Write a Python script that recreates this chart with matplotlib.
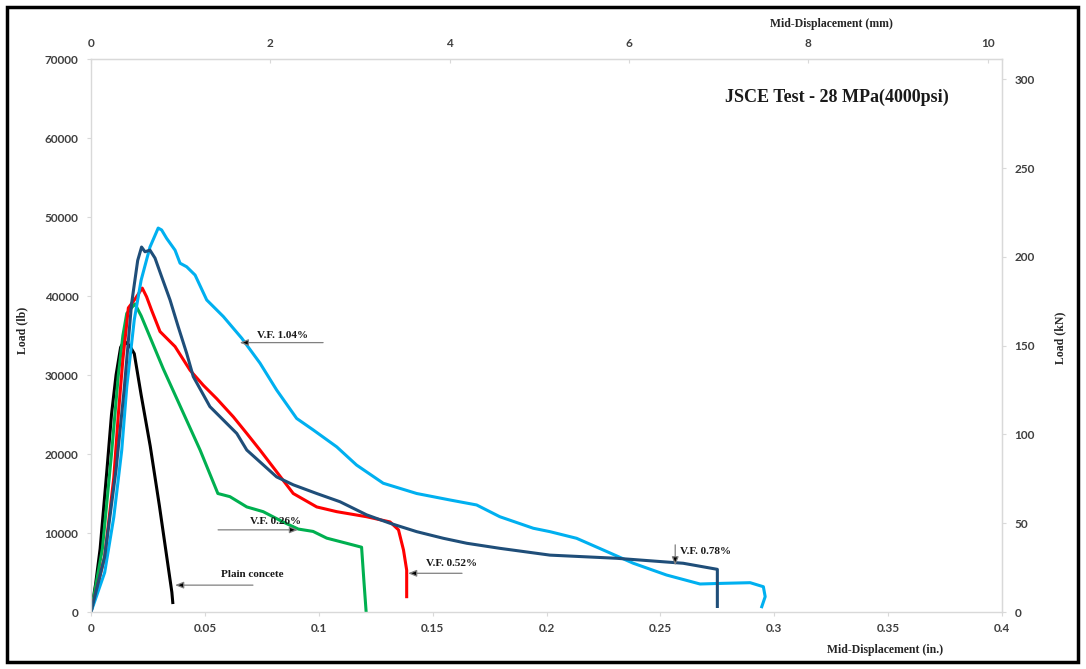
import matplotlib
matplotlib.use("Agg")
import matplotlib.pyplot as plt
from matplotlib.patches import Rectangle

# Mid-displacement (in.) and load (lb)
plain_x = [0, 0.002, 0.004, 0.007, 0.009, 0.011, 0.013, 0.0145, 0.017, 0.019,
           0.022, 0.026, 0.030, 0.034, 0.0355, 0.0359]
plain_y = [0, 3500, 8000, 18000, 25000, 30000, 33500, 34300, 33700, 32700,
           27500, 21000, 13500, 5500, 2500, 1200]

vf026_x = [0, 0.005, 0.009, 0.012, 0.014, 0.0157, 0.0193, 0.022, 0.0317, 0.0479,
           0.0557, 0.061, 0.0684, 0.0756, 0.0843, 0.091, 0.0975, 0.1035, 0.1122,
           0.1188, 0.1198, 0.1208]
vf026_y = [0, 8000, 20000, 30000, 35000, 37800, 39000, 37500, 30800, 20500,
           15000, 14600, 13300, 12700, 11400, 10500, 10200, 9350, 8700,
           8200, 4000, 0]

vf052_x = [0, 0.006, 0.010, 0.012, 0.014, 0.0155, 0.0164, 0.0193, 0.0225, 0.0244,
           0.0266, 0.0303, 0.0369, 0.0435, 0.0493, 0.0552, 0.0625, 0.0684, 0.0742,
           0.0888, 0.0991, 0.1079, 0.121, 0.1313, 0.135, 0.1372, 0.1386, 0.1386]
vf052_y = [0, 7000, 17000, 25000, 32000, 36000, 38500, 39600, 41000, 39900,
           38200, 35500, 33600, 30600, 28700, 27000, 24700, 22600, 20500,
           15000, 13300, 12700, 12060, 11400, 10400, 7850, 5300, 1940]

vf078_x = [0, 0.006, 0.011, 0.0145, 0.0178, 0.0205, 0.0222, 0.0237, 0.0259, 0.0281,
           0.031, 0.0347, 0.0383, 0.042, 0.0449, 0.0522, 0.0581, 0.064, 0.0684,
           0.0815, 0.0888, 0.0991, 0.1093, 0.121, 0.1313, 0.143, 0.1547, 0.165,
           0.1795, 0.2015, 0.2308, 0.26, 0.275, 0.275]
vf078_y = [0, 7000, 18000, 28000, 39000, 44500, 46200, 45600, 45800, 44800,
           42450, 39500, 36100, 32750, 29800, 26000, 24300, 22600, 20500,
           17100, 16100, 15000, 13960, 12300, 11230, 10170, 9330, 8700,
           8060, 7200, 6800, 6170, 5400, 700]

vf104_x = [0, 0.006, 0.010, 0.0135, 0.0157, 0.019, 0.022, 0.0259, 0.0295, 0.031,
           0.0332, 0.0369, 0.0391, 0.042, 0.0457, 0.0508, 0.0581, 0.0662, 0.0742,
           0.0815, 0.0903, 0.0976, 0.1079, 0.1166, 0.1283, 0.143, 0.1576, 0.1693,
           0.1795, 0.1942, 0.2015, 0.2132, 0.2249, 0.2381, 0.2527, 0.2674, 0.2776,
           0.2894, 0.2952, 0.296, 0.2945]
vf104_y = [0, 5000, 12000, 20500, 28500, 37000, 42000, 46200, 48600, 48360,
           47300, 45800, 44150, 43700, 42650, 39500, 37400, 34650, 31500,
           28100, 24500, 23040, 20900, 18600, 16300, 15000, 14180, 13550,
           12060, 10600, 10170, 9330, 7850, 6170, 4680, 3545, 3630,
           3710, 3200, 1940, 670]

series = [
    (plain_x, plain_y, "black"),
    (vf026_x, vf026_y, "#00b050"),
    (vf052_x, vf052_y, "#ff0000"),
    (vf104_x, vf104_y, "#00b0f0"),
    (vf078_x, vf078_y, "#1f4e79"),
]

LB_TO_KN = 0.00444822
SERIF = ["Liberation Serif", "DejaVu Serif"]
TICKFONT = dict(family="Lato", weight="bold", size=8.5, color="#404040")

fig = plt.figure(figsize=(10.86, 6.69), dpi=100)
ax = fig.add_axes([0.0838, 0.0852, 0.8389, 0.8266])

for xs, ys, c in series:
    ax.plot(xs, ys, color=c, lw=2.2, solid_joinstyle="round")

ax.set_xlim(0, 0.4)
ax.set_ylim(0, 70000)
ax.set_xticks([0, 0.05, 0.1, 0.15, 0.2, 0.25, 0.3, 0.35, 0.4])
ax.set_xticklabels(["0", "0.05", "0.1", "0.15", "0.2", "0.25", "0.3", "0.35", "0.4"])
ax.set_yticks(range(0, 70001, 10000))

for s in ax.spines.values():
    s.set_color("#d9d9d9")
    s.set_linewidth(1.0)
ax.tick_params(axis="x", length=3, color="#d9d9d9", width=0.8, pad=5)
ax.tick_params(axis="y", length=3, color="#d9d9d9", width=0.8, pad=6)
for lab in ax.get_xticklabels() + ax.get_yticklabels():
    lab.set(**TICKFONT)

top = ax.secondary_xaxis("top", functions=(lambda v: v * 25.4, lambda v: v / 25.4))
top.set_xticks([0, 2, 4, 6, 8, 10])
top.spines["top"].set_color("#d9d9d9")
top.tick_params(length=3, color="#d9d9d9", direction="in", pad=7)
for lab in top.get_xticklabels():
    lab.set(**TICKFONT)

right = ax.secondary_yaxis("right", functions=(lambda v: v * LB_TO_KN,
                                                lambda v: v / LB_TO_KN))
right.set_yticks(range(0, 301, 50))
right.spines["right"].set_color("#d9d9d9")
right.tick_params(length=3, color="#d9d9d9", pad=6)
for lab in right.get_yticklabels():
    lab.set(**TICKFONT)

lab_kw = dict(family=SERIF, weight="bold", size=8.5, color="#262626",
              transform=ax.transAxes, ha="center", va="center")
ax.text(-0.0757, 0.51, "Load (lb)", rotation=90, **lab_kw)
ax.text(1.0637, 0.495, "Load (kN)", rotation=90, **lab_kw)
ax.text(0.813, 1.063, "Mid-Displacement (mm)", **lab_kw)
ax.text(0.8716, -0.0687, "Mid-Displacement (in.)", **lab_kw)

ax.text(0.819, 0.931, "JSCE Test - 28 MPa(4000psi)", transform=ax.transAxes,
        ha="center", va="center", family=SERIF, weight="bold", size=13,
        color="#1a1a1a")

arrow_kw = dict(arrowstyle="-|>,head_length=0.5,head_width=0.2",
                ec="#808080", fc="black", lw=0.9, shrinkA=0, shrinkB=0)
ann_kw = dict(family=SERIF, weight="bold", size=8, color="#1a1a1a")

notes = [
    ("V.F. 1.04%", (0.0653, 34100), (0.1019, 34100), (0.0839, 35000)),
    ("V.F. 0.26%", (0.0909, 10400), (0.0558, 10400), (0.0812, 11400)),
    ("Plain concete", (0.0369, 3400), (0.0711, 3400), (0.0709, 4700)),
    ("V.F. 0.52%", (0.1392, 4900), (0.1629, 4900), (0.1583, 6200)),
]
for txt, head, tail, pos in notes:
    ax.annotate("", xy=head, xytext=tail, arrowprops=arrow_kw)
    ax.text(pos[0], pos[1], txt, ha="center", va="center", **ann_kw)

ax.annotate("", xy=(0.2565, 5900), xytext=(0.2565, 8500), arrowprops=arrow_kw)
ax.text(0.2584, 7600, "V.F. 0.78%", ha="left", va="center", **ann_kw)

fig.add_artist(Rectangle((0.0065, 0.01), 0.986, 0.98, transform=fig.transFigure,
                         fill=False, ec="black", lw=2.5))

fig.savefig("out.png", dpi=100)
